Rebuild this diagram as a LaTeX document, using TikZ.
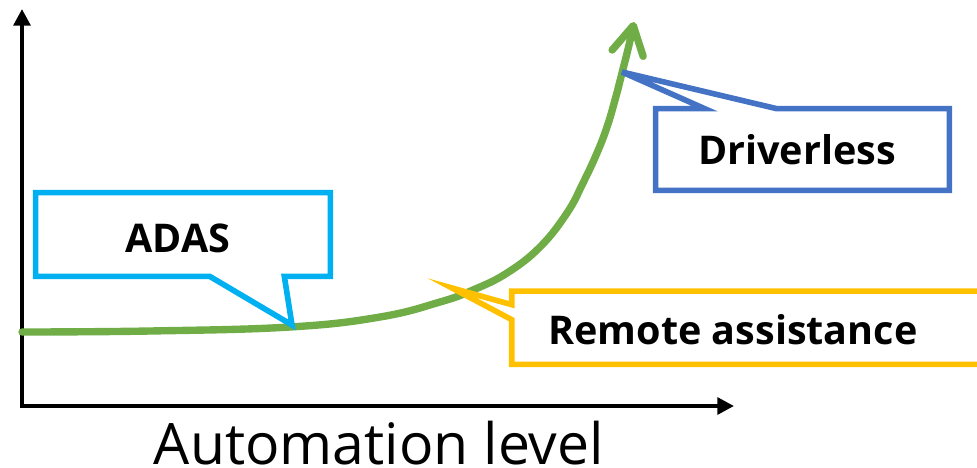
\documentclass[tikz,border=0pt]{standalone}
\usepackage{fontspec}
\setmainfont{Open Sans}
\usepackage{xcolor}
\usetikzlibrary{arrows.meta,calc}
\definecolor{curvegreen}{HTML}{70AD47}
\definecolor{adasblue}{HTML}{00B0F0}
\definecolor{drvblue}{HTML}{4472C4}
\definecolor{remyellow}{HTML}{FFC000}
\begin{document}
\begin{tikzpicture}[x=0.02cm, y=-0.02cm,
		axis/.style={line width=2.3pt, {Triangle[length=9.5pt, width=9.5pt]}-{Triangle[length=9.5pt, width=9.5pt]}},
		box/.style={inner sep=0pt, minimum width=#1},
		callout/.style={line width=3.2pt, line join=miter},
		lbl/.style={font=\bfseries\fontsize{22.5}{26}\selectfont, inner sep=0pt}]
		\useasboundingbox (0,0) rectangle (977,467);
		\clip (0,0) rectangle (977,467);
		% axes
		\coordinate (ytop) at (22,9);
		\coordinate (origin) at (22,406);
		\coordinate (xend) at (734,406);
		\draw[axis] (ytop) -- (origin) -- (xend);
		\node[anchor=base, font=\fontsize{32.5}{36}\selectfont, inner sep=0pt] (xlabel) at (379,464) {Automation level};
		% growth curve
		\draw[curvegreen, line width=4.2pt, line cap=round, -{Straight Barb[round, length=16pt, width=18pt]}]
			plot[smooth, tension=0.7] coordinates {(22,332) (150,331) (290,327) (380,317) (440,302) (473,290) (507,273) (540,247)
				(567,213) (583,183) (597,153) (607,127) (615,100) (622,73) (629,45) (634,22)};
		\coordinate (adasTip) at (292,325);
		\coordinate (drvTip) at (622,72);
		\coordinate (remTip) at (452,288);
		% callouts
		\node[box=5.88cm, minimum height=1.66cm] (adas) at (183,234.5) {};
		\node[lbl] (adasTxt) at (178,238) {ADAS};
		\draw[callout, adasblue] (adas.north west) -- (adas.north east) -- (adas.south east) -- ++(-46,0) -- (adasTip)
			-- ($(adas.south west)+(174,0)$) -- (adas.south west) -- cycle;
		\node[box=5.86cm, minimum height=1.62cm] (drv) at (802.5,149.5) {};
		\node[lbl] (drvTxt) at (797,150) {Driverless};
		\draw[callout, drvblue] (drv.north west) -- ($(drv.north west)+(49,0)$) -- (drvTip) -- ($(drv.north west)+(121,0)$)
			-- (drv.north east) -- (drv.south east) -- (drv.south west) -- cycle;
		\node[box=9.96cm, minimum height=1.45cm] (rem) at (761,327.75) {};
		\node[lbl] (remTxt) at (733,330) {Remote assistance};
		\draw[callout, remyellow] (rem.north west) -- (rem.north east) -- (rem.south east) -- (rem.south west)
			-- ($(rem.north west)+(0,28.5)$) -- (remTip) -- ($(rem.north west)+(0,13.5)$) -- cycle;
	\end{tikzpicture}
\end{document}
